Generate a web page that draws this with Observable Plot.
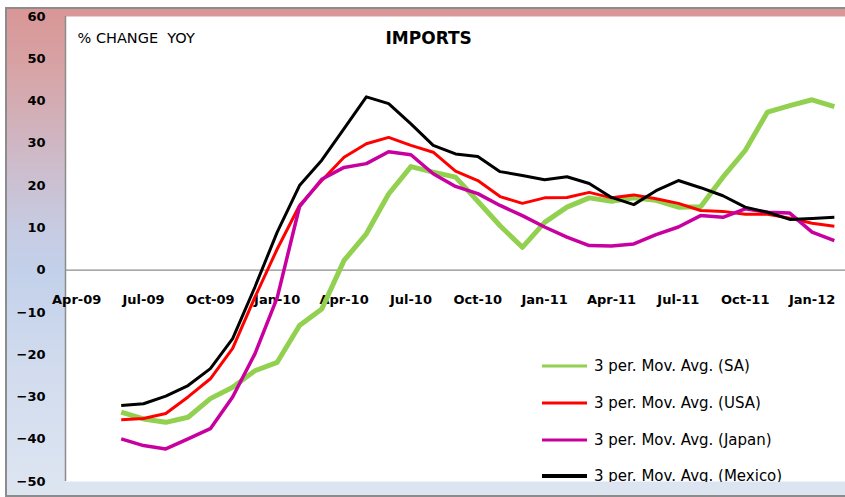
<!DOCTYPE html>
<html><head><meta charset="utf-8">
<script src="https://cdn.jsdelivr.net/npm/d3@7"></script>
<script src="https://cdn.jsdelivr.net/npm/@observablehq/plot@0.6"></script>
<style>
html,body{margin:0;padding:0;background:#fff;}
#wrap{position:relative;width:845px;height:497px;overflow:hidden;background:#fff;}
#bg{position:absolute;left:5px;top:7px;width:840px;height:490px;box-sizing:border-box;
 border-left:2px solid #8c8c8c;border-top:2px solid #8c8c8c;border-bottom:2px solid #8c8c8c;
 background:linear-gradient(to bottom,#d99696 0%,#d7a3a5 12%,#cdbccb 32%,#c6cbe2 45%,#c3d1ea 55%,#d2dcee 75%,#dde5f1 100%);}
#chart{position:absolute;left:0;top:0;}
#chart svg{background:transparent;}
</style></head>
<body><div id="wrap"><div id="bg"></div><div id="chart"></div></div>
<script>
// monthly observations, Jun-09 .. Feb-12
const months = ["Jun-09","Jul-09","Aug-09","Sep-09","Oct-09","Nov-09","Dec-09",
 "Jan-10","Feb-10","Mar-10","Apr-10","May-10","Jun-10","Jul-10","Aug-10","Sep-10","Oct-10","Nov-10","Dec-10",
 "Jan-11","Feb-11","Mar-11","Apr-11","May-11","Jun-11","Jul-11","Aug-11","Sep-11","Oct-11","Nov-11","Dec-11",
 "Jan-12","Feb-12"];
const sa     = [-33.6,-35.2,-36,-34.8,-30.4,-27.7,-23.8,-21.8,-13.1,-9.2,2.3,8.6,18,24.5,23.2,22,16.3,10.5,5.4,11.3,14.9,17.1,16.3,17.1,16.5,14.9,15,22,28.3,37.4,38.9,40.3,38.7];
const usa    = [-35.4,-35.1,-33.9,-30,-25.7,-18.5,-6.4,5,15.3,21.2,26.7,29.9,31.4,29.5,27.9,23.4,21.2,17.4,15.8,17.1,17.2,18.4,17.1,17.8,16.9,15.8,14.1,13.9,13.2,13.2,12.3,11.1,10.4];
const japan  = [-39.9,-41.5,-42.3,-39.9,-37.5,-30,-19.8,-6.5,15,21.5,24.3,25.2,28,27.3,22.8,19.8,18.1,15.3,12.9,10.2,7.8,5.8,5.7,6.2,8.4,10.2,12.9,12.5,14.5,13.7,13.5,9,7];
const mexico = [-32,-31.6,-29.8,-27.3,-23.3,-16.2,-4,9,20,26,33.5,41,39.4,34.6,29.5,27.5,26.9,23.3,22.4,21.4,22.1,20.5,17.2,15.5,18.8,21.2,19.5,17.6,14.9,13.7,12,12.2,12.5];
const tickLabels = ["Apr-09","Jul-09","Oct-09","Jan-10","Apr-10","Jul-10","Oct-10","Jan-11","Apr-11","Jul-11","Oct-11","Jan-12"];
const yTicks = [-50,-40,-30,-20,-10,0,10,20,30,40,50,60];
const seriesNames = ["3 per. Mov. Avg. (SA)","3 per. Mov. Avg. (USA)","3 per. Mov. Avg. (Japan)","3 per. Mov. Avg. (Mexico)"];
const seriesColors = ["#92d050","#ff0000","#c8009f","#000000"];
const seriesWidths = [5,3,3.5,3];

const monNames = ["Jan","Feb","Mar","Apr","May","Jun","Jul","Aug","Sep","Oct","Nov","Dec"];
// month index counted from Apr-09
const mIdx = s => { const [m,y] = s.split("-"); return (+y - 9)*12 + monNames.indexOf(m) - 3; };
const xDomain = [-0.5, 34.5];

const seriesVals = [sa, usa, japan, mexico];
const rows = seriesVals.map((vals, k) => vals.map((v, i) => ({x: mIdx(months[i]), v, k})));
const ticks = tickLabels.map(t => ({x: mIdx(t), t}));

const plot = Plot.plot({
  width: 845, height: 497,
  marginLeft: 65, marginRight: 0, marginTop: 16, marginBottom: 16,
  x: {domain: xDomain, axis: null},
  y: {domain: [-50, 60], axis: null},
  style: {background: "transparent", overflow: "visible"},
  marks: [
    Plot.frame({fill: "white", stroke: null}),
    Plot.ruleY([0], {stroke: "#8c8c8c", strokeWidth: 1.2}),
    Plot.ruleX([xDomain[0]], {stroke: "#8c8c8c", strokeWidth: 1.5}),
    Plot.axisY(yTicks, {label: null, tickSize: 0, tickPadding: 20, fontSize: 13, fontWeight: "bold", fontFamily: "DejaVu Sans", fill: "#000", style: "letter-spacing:1.5px"}),
    Plot.text(ticks, {x: "x", y: () => 0, text: "t", dy: 30, fontSize: 13, fontWeight: "bold", fontFamily: "DejaVu Sans", fill: "#000"}),
    ...rows.map((r, k) => Plot.line(r, {x: "x", y: "v", stroke: seriesColors[k], strokeWidth: seriesWidths[k], strokeLinejoin: "round", strokeLinecap: "butt"})),
    Plot.text(["% CHANGE  YOY"], {frameAnchor: "top-left", dx: 12, dy: 22, textAnchor: "start", lineAnchor: "middle", fontSize: 14.5, fontFamily: "DejaVu Sans", fill: "#000", style: "white-space:pre;letter-spacing:0.4px"}),
    Plot.text(["IMPORTS"], {frameAnchor: "top-left", dx: 320, dy: 22, textAnchor: "start", lineAnchor: "middle", fontSize: 17, fontWeight: "bold", fontFamily: "DejaVu Sans", fill: "#000", style: "letter-spacing:0.3px"})
  ]
});
document.getElementById("chart").appendChild(plot);

// legend (clipped to the plot area like the original)
const svg = d3.select(plot);
const clipId = "legclip";
svg.append("defs").append("clipPath").attr("id", clipId)
  .append("rect").attr("x", 65).attr("y", 16).attr("width", 780).attr("height", 466);
const lg = svg.append("g").attr("clip-path", `url(#${clipId})`).attr("text-anchor", "start");
const legY = [366, 403, 440, 476];
seriesNames.forEach((name, k) => {
  lg.append("line").attr("x1", 542).attr("x2", 587).attr("y1", legY[k]).attr("y2", legY[k])
    .attr("stroke", seriesColors[k]).attr("stroke-width", k === 3 ? 4 : 3);
  lg.append("text").attr("x", 594).attr("y", legY[k]).attr("dy", "0.36em").attr("text-anchor", "start")
    .attr("font-family", "DejaVu Sans").attr("font-size", 15).attr("fill", "#000").text(name);
});
</script>
</body></html>
